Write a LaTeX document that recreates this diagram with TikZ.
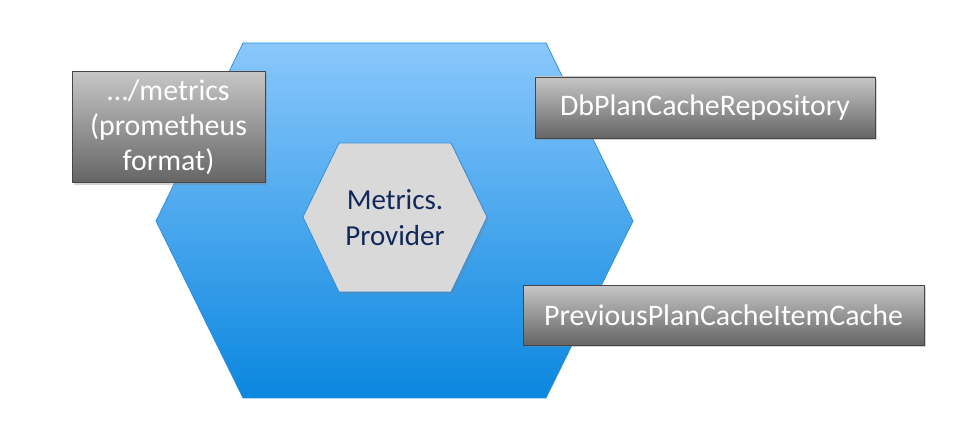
\documentclass[tikz,border=0pt]{standalone}
\usepackage{fontspec}
\setmainfont{Carlito}
\usetikzlibrary{shadows}
\definecolor{hexlight}{HTML}{8AC7FC}
\definecolor{hexdark}{HTML}{0A87DF}
\definecolor{hexline}{HTML}{2A8CDA}
\definecolor{coregray}{HTML}{D9D9D9}
\definecolor{navytext}{HTML}{10295A}
\definecolor{boxtop}{HTML}{C6C6C6}
\definecolor{boxbot}{HTML}{656565}
\begin{document}
\begin{tikzpicture}[x=0.02cm,y=-0.02cm,
    hexa/.style={draw=hexline,thin,top color=hexlight,bottom color=hexdark},%
    core/.style={draw=hexline,thin,fill=coregray,
      drop shadow={shadow xshift=1pt,shadow yshift=-1pt,opacity=0.3}},%
    port/.style={draw=gray!55!black,thin,top color=boxtop,bottom color=boxbot,
      text=white,align=center,inner sep=0pt,
      font=\fontsize{17}{19.8}\selectfont,
      drop shadow={shadow xshift=1.2pt,shadow yshift=-1.2pt,opacity=0.35}}%
  ]
  \useasboundingbox (0,0) rectangle (974,445);
  %% outer hexagon
  \draw[hexa] (243,43) -- (546,43) -- (633,221) -- (546,398)
    -- (243,398) -- (156,221) -- cycle;%
  %% inner hexagon
  \draw[core] (339,143) -- (451,143) -- (487,217) -- (451,292)
    -- (339,292) -- (303,217) -- cycle;%
  \node[text=navytext,align=center,font=\fontsize{16.5}{20.5}\selectfont]
    (provider) at (395,218) {Metrics.\\Provider};%
  %% ports
  \node[port,minimum width=3.86cm,minimum height=2.22cm]
    (metrics) at (168.5,127) {…/metrics\\(prometheus\\format)};%
  \node[port,minimum width=6.8cm,minimum height=1.22cm]
    (repo) at (705,107.5) {DbPlanCacheRepository};%
  \node[port,minimum width=8.02cm,minimum height=1.2cm]
    (cache) at (723.5,315) {PreviousPlanCacheItemCache};%
\end{tikzpicture}
\end{document}
